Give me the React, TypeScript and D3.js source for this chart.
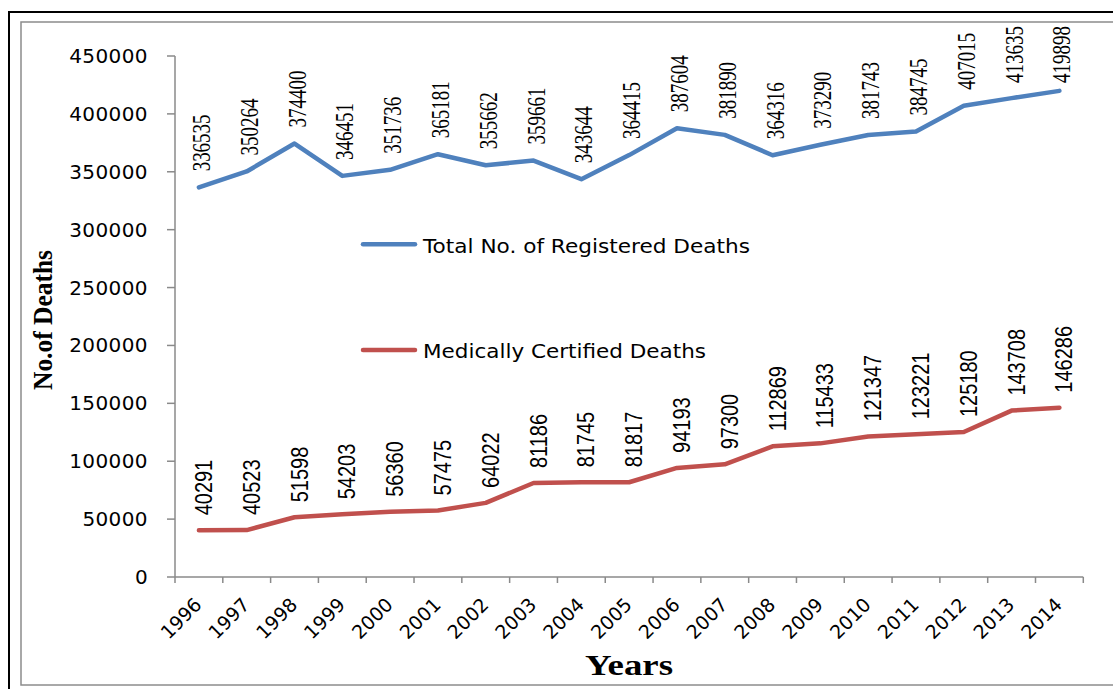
import React from "react";
import * as d3 from "d3";

const years = ["1996","1997","1998","1999","2000","2001","2002","2003","2004","2005","2006","2007","2008","2009","2010","2011","2012","2013","2014"];
const totalDeaths = [336535,350264,374400,346451,351736,365181,355662,359661,343644,364415,387604,381890,364316,373290,381743,384745,407015,413635,419898];
const certifiedDeaths = [40291,40523,51598,54203,56360,57475,64022,81186,81745,81817,94193,97300,112869,115433,121347,123221,125180,143708,146286];
const yTicks = [0,50000,100000,150000,200000,250000,300000,350000,400000,450000];
const seriesNames = ["Total No. of Registered Deaths", "Medically Certified Deaths"];

const BLUE = "#4F81BD";
const RED = "#C0504D";
const AXIS = "#8a8a8a";

export default function App() {
  const W = 1113, H = 689;
  const x = d3.scaleBand<string>().domain(years).range([175, 1083.3]).paddingInner(0).paddingOuter(0);
  const y = d3.scaleLinear().domain([0, 450000]).range([577, 56]);
  const cx = (yr: string) => (x(yr) as number) + x.bandwidth() / 2;
  const line = d3.line<number>().x((_, i) => cx(years[i])).y((d) => y(d));

  const edges = [...years.map((yr) => x(yr) as number), 1083.3];

  return (
    <svg width={W} height={H} style={{ position: "absolute", left: 0, top: 0, background: "#fff" }}>
      <rect x={0} y={0} width={W} height={H} fill="#fff" />
      {/* outer black border */}
      <rect x={9} y={12} width={W + 20} height={H + 20} fill="none" stroke="#000" strokeWidth={2} />
      {/* inner gray border */}
      <rect x={21} y={22} width={W + 20} height={663} fill="none" stroke="#8c8c8c" strokeWidth={1.5} />

      {/* y axis */}
      <line x1={175} x2={175} y1={y(450000)} y2={y(0)} stroke={AXIS} strokeWidth={1.5} />
      {yTicks.map((t) => (
        <g key={t}>
          <line x1={167} x2={175} y1={y(t)} y2={y(t)} stroke={AXIS} strokeWidth={1.5} />
          <text x={148} y={y(t) + 7} textAnchor="end" fontFamily="DejaVu Sans" fontSize={20} letterSpacing={0.4} fill="#000">
            {t}
          </text>
        </g>
      ))}
      {/* x axis */}
      <line x1={175} x2={1083.3} y1={y(0)} y2={y(0)} stroke={AXIS} strokeWidth={1.5} />
      {edges.map((e, i) => (
        <line key={i} x1={e} x2={e} y1={y(0)} y2={y(0) + 6} stroke={AXIS} strokeWidth={1.5} />
      ))}
      {years.map((yr) => (
        <text key={yr} transform={`translate(${cx(yr) + 4},${606}) rotate(-45)`} textAnchor="end" fontFamily="DejaVu Sans" fontSize={19} fill="#000">
          {yr}
        </text>
      ))}

      {/* axis titles */}
      <text transform={`translate(52,320) rotate(-90)`} textAnchor="middle" fontFamily="Liberation Serif" fontWeight="bold" fontSize={27} textLength={140} lengthAdjust="spacingAndGlyphs" fill="#000">
        No.of Deaths
      </text>
      <text x={629} y={675} textAnchor="middle" fontFamily="Liberation Serif" fontWeight="bold" fontSize={29} textLength={88} lengthAdjust="spacingAndGlyphs" fill="#000">
        Years
      </text>

      {/* lines */}
      <path d={line(totalDeaths) || ""} fill="none" stroke={BLUE} strokeWidth={4.5} strokeLinejoin="round" strokeLinecap="round" />
      <path d={line(certifiedDeaths) || ""} fill="none" stroke={RED} strokeWidth={4.5} strokeLinejoin="round" strokeLinecap="round" />

      {/* data labels blue */}
      {totalDeaths.map((v, i) => {
        const px = cx(years[i]);
        let by = y(v) - 16;
        const len = 57;
        if (by - len < 26) by = 26 + len;
        return (
          <text key={"b" + i} transform={`translate(${px + 11},${by}) rotate(-90) scale(1,1.28)`} fontFamily="Liberation Serif" fontSize={19} fill="#000">
            {v}
          </text>
        );
      })}
      {/* data labels red */}
      {certifiedDeaths.map((v, i) => {
        const px = cx(years[i]);
        const by = y(v) - 15;
        return (
          <text key={"r" + i} transform={`translate(${px + 13},${by}) rotate(-90) scale(1,1.2)`} fontFamily="Liberation Sans" fontSize={20} fill="#000">
            {v}
          </text>
        );
      })}

      {/* legend */}
      <line x1={363} x2={415} y1={244.3} y2={244.3} stroke={BLUE} strokeWidth={4.5} strokeLinecap="round" />
      <text x={423} y={253.3} fontFamily="DejaVu Sans" fontSize={19} textLength={327} lengthAdjust="spacingAndGlyphs" fill="#000">
        {seriesNames[0]}
      </text>
      <line x1={363} x2={415} y1={350} y2={350} stroke={RED} strokeWidth={4.5} strokeLinecap="round" />
      <text x={423} y={358.3} fontFamily="DejaVu Sans" fontSize={19} textLength={283} lengthAdjust="spacingAndGlyphs" fill="#000">
        {seriesNames[1]}
      </text>
    </svg>
  );
}
